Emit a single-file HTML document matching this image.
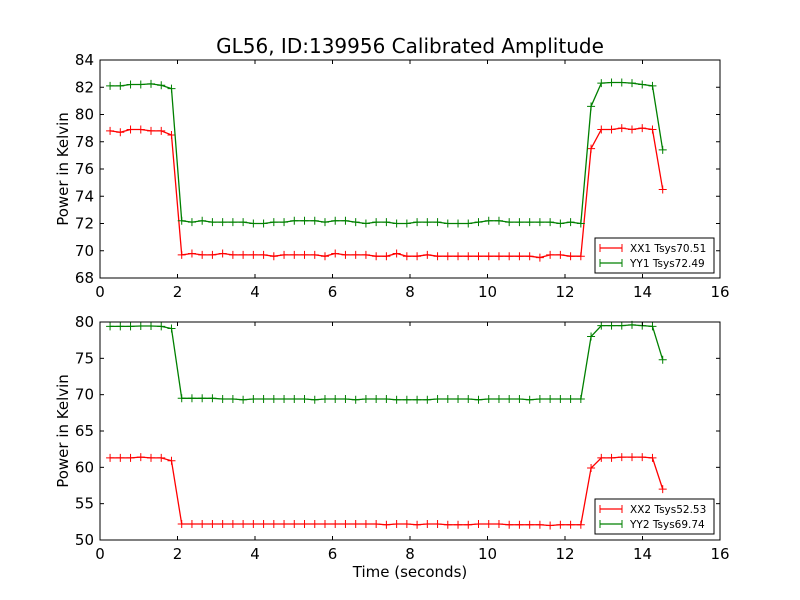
<!DOCTYPE html>
<html><head><meta charset="utf-8"><style>
body{margin:0;background:#fff;}
svg{display:block;font-family:"DejaVu Sans","Liberation Sans",sans-serif;}
</style></head><body>
<svg id="fig" width="800" height="600" viewBox="0 0 800 600">
<rect width="800" height="600" fill="#fff"/>
<text x="410" y="53" font-size="20" text-anchor="middle">GL56, ID:139956 Calibrated Amplitude</text>
</svg>
<script>
const xx1High=[78.8,78.7,78.9,78.9,78.8,78.8,78.5];
const xx1Low=[69.7,69.8,69.7,69.7,69.8,69.7,69.7,69.7,69.7,69.6,69.7,69.7,69.7,69.7,69.6,69.8,69.7,69.7,69.7,69.6,69.6,69.8,69.6,69.6,69.7,69.6,69.6,69.6,69.6,69.6,69.6,69.6,69.6,69.6,69.6,69.5,69.7,69.7,69.6,69.6];
const xx1End=[77.5,78.9,78.9,79.0,78.9,79.0,78.9,74.5];
const yy1High=[82.1,82.1,82.2,82.2,82.25,82.15,81.9];
const yy1Low=[72.2,72.1,72.2,72.1,72.1,72.1,72.1,72.0,72.0,72.1,72.1,72.2,72.2,72.2,72.1,72.2,72.2,72.1,72.0,72.1,72.1,72.0,72.0,72.1,72.1,72.1,72.0,72.0,72.0,72.1,72.2,72.2,72.1,72.1,72.1,72.1,72.1,72.0,72.1,72.0];
const yy1End=[80.6,82.3,82.35,82.35,82.3,82.2,82.1,77.4];
const xx2High=[61.3,61.3,61.3,61.4,61.3,61.3,60.9];
const xx2Low=[52.2,52.2,52.2,52.2,52.2,52.2,52.2,52.2,52.2,52.2,52.2,52.2,52.2,52.2,52.2,52.2,52.2,52.2,52.2,52.2,52.1,52.2,52.2,52.1,52.2,52.2,52.1,52.1,52.1,52.2,52.2,52.2,52.1,52.1,52.1,52.1,52.0,52.1,52.1,52.1];
const xx2End=[59.9,61.3,61.3,61.4,61.4,61.4,61.3,57.0];
const yy2High=[79.4,79.4,79.4,79.45,79.45,79.4,79.1];
const yy2Low=[69.5,69.5,69.5,69.5,69.4,69.4,69.3,69.4,69.4,69.4,69.4,69.4,69.4,69.3,69.4,69.4,69.4,69.3,69.4,69.4,69.4,69.3,69.3,69.3,69.3,69.4,69.4,69.4,69.4,69.3,69.4,69.4,69.4,69.4,69.3,69.4,69.4,69.4,69.4,69.4];
const yy2End=[78.0,79.5,79.5,79.5,79.6,79.5,79.4,74.8];
const tStart=0.26, tStep=0.2641;
const xTicks=[0,2,4,6,8,10,12,14,16];
const yTicksTop=[68,70,72,74,76,78,80,82,84];
const yTicksBot=[50,55,60,65,70,75,80];

const NS="http://www.w3.org/2000/svg";
const svg=document.getElementById('fig');
function mk(tag,attrs,parent){const e=document.createElementNS(NS,tag);for(const k in attrs)e.setAttribute(k,attrs[k]);(parent||svg).appendChild(e);return e;}

function panel(top,bottom,ymin,ymax,yticks,series,legend,showXLabel,pname){
  const L=100,R=720;
  const g=mk('g',{});
  
  
  const sx=t=>L+(t-0)/16*(R-L);
  const sy=v=>bottom-(v-ymin)/(ymax-ymin)*(bottom-top);
  series.forEach(s=>{
    const vals=s.vals;
    const pts=vals.map((v,i)=>[sx(tStart+i*tStep),sy(v)]);
    const pl=mk('polyline',{points:pts.map(p=>p.join(',')).join(' '),fill:'none',stroke:s.color,'stroke-width':1.3},g);
    
    
    let d='';
    pts.forEach(p=>{d+=`M${p[0]-4},${p[1]}h8M${p[0]},${p[1]-4}v8`;});
    const m=mk('path',{d:d,stroke:s.color,'stroke-width':1,fill:'none'},g);
    
    
  });
  const fr=mk('rect',{x:L,y:top,width:R-L,height:bottom-top,fill:'none',stroke:'#000','stroke-width':1},g);
  
  
  xTicks.forEach(t=>{
    const x=sx(t);
    mk('line',{x1:x,x2:x,y1:bottom,y2:bottom-4,stroke:'#000'},g);
    mk('line',{x1:x,x2:x,y1:top,y2:top+4,stroke:'#000'},g);
    const tx=mk('text',{x:x,y:bottom+19,'font-size':15,'text-anchor':'middle'},g);
    tx.textContent=t;
    
    
  });
  yticks.forEach(v=>{
    const y=sy(v);
    mk('line',{x1:L,x2:L+4,y1:y,y2:y,stroke:'#000'},g);
    mk('line',{x1:R,x2:R-4,y1:y,y2:y,stroke:'#000'},g);
    const tx=mk('text',{x:L-6,y:y+5,'font-size':15,'text-anchor':'end'},g);
    tx.textContent=v;
    
    
  });
  const yl=mk('text',{x:0,y:0,'font-size':15,'text-anchor':'middle',transform:`translate(68,${(top+bottom)/2}) rotate(-90)`},g);
  yl.textContent='Power in Kelvin';
  
  
  if(showXLabel){
    const xl=mk('text',{x:410,y:577,'font-size':15,'text-anchor':'middle'},g);
    xl.textContent='Time (seconds)';
    
    
  }
  const lg=mk('g',{},g);
  
  
  mk('rect',{x:595,y:legend,width:119,height:35,fill:'#fff',stroke:'#000','stroke-width':1},lg);
  series.forEach((s,i)=>{
    const y=legend+10+i*15;
    mk('line',{x1:600,x2:622,y1:y,y2:y,stroke:s.color,'stroke-width':1.3},lg);
    mk('path',{d:`M600,${y-4}v8M622,${y-4}v8`,stroke:s.color},lg);
    const t=mk('text',{x:630,y:y+4,'font-size':10.5},lg);
    t.textContent=s.label;
    
    
  });
}
panel(60,278,68,84,yTicksTop,[
  {name:'xx1',color:'#ff0000',label:'XX1 Tsys70.51',vals:xx1High.concat(xx1Low,xx1End)},
  {name:'yy1',color:'#008000',label:'YY1 Tsys72.49',vals:yy1High.concat(yy1Low,yy1End)}
],238,false,'top-panel');
panel(322,540,50,80,yTicksBot,[
  {name:'xx2',color:'#ff0000',label:'XX2 Tsys52.53',vals:xx2High.concat(xx2Low,xx2End)},
  {name:'yy2',color:'#008000',label:'YY2 Tsys69.74',vals:yy2High.concat(yy2Low,yy2End)}
],499,true,'bottom-panel');
</script>
</body></html>
